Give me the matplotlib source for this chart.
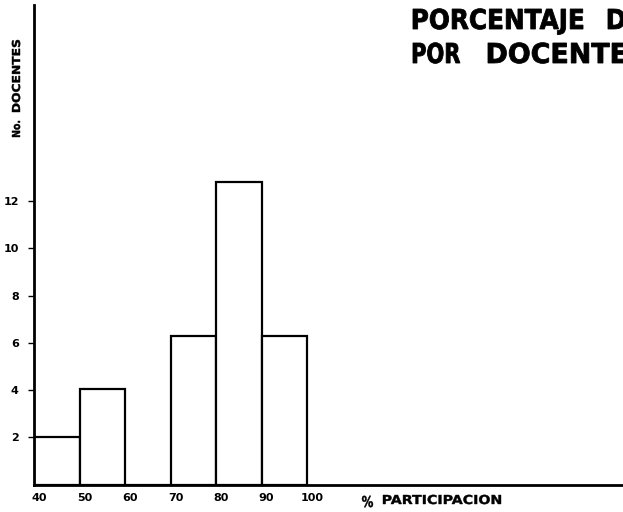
import numpy as np
import matplotlib
matplotlib.use('Agg')
import matplotlib.pyplot as plt
from matplotlib.textpath import TextPath
from matplotlib.patches import PathPatch
from matplotlib.font_manager import FontProperties
from matplotlib.transforms import Affine2D, ScaledTranslation

# intervalos de participacion (%) y numero de docentes
bordes = [40, 50, 60, 70, 80, 90, 100]
docentes = [2.0, 4.05, 0.0, 6.3, 12.8, 6.3]

xticks = [40, 50, 60, 70, 80, 90, 100]
xlabels = ['40', '50', '60', '70', '80', '90', '100']
yticks = [2, 4, 6, 8, 10, 12]
ylabels = ['2', '4', '6', '8', '10', '12']

W, H = 623, 512
plt.rcParams['font.family'] = ['DejaVu Sans']
fp = FontProperties(family='DejaVu Sans', weight='bold')
alto_H = TextPath((0, 0), 'H', size=20, prop=fp).get_extents().height


def letrero(fig, s, x0, base, ancho, cap, medida=None, rot=False, grosor=0.0):
    # texto como trazo, ajustado a un ancho y una altura de mayusculas en pixeles
    tp = TextPath((0, 0), s, size=20, prop=fp)
    bb = TextPath((0, 0), medida or s, size=20, prop=fp).get_extents()
    sx = ancho / bb.width
    sy = cap / alto_H
    tr = Affine2D().translate(-bb.x0, 0).scale(sx, sy)
    if rot:
        tr = tr.rotate_deg(90).translate(base, H - x0)
    else:
        tr = tr.translate(x0, H - base)
    p = PathPatch(tp, transform=tr, facecolor='black', edgecolor='black',
                  linewidth=grosor)
    fig.add_artist(p)


fig = plt.figure(figsize=(W / 100, H / 100), dpi=100)
ax = fig.add_axes([34 / W, 27.4 / H, 1 - 34 / W, 479.6 / H])

izq = np.array(bordes[:-1])
anchos = np.diff(bordes)
ax.bar(izq, docentes, width=anchos, align='edge', color='white',
       edgecolor='black', linewidth=1.6)

ax.set_xlim(40, 169.4)
ax.set_ylim(0, 20.3)

for lado in ['top', 'right']:
    ax.spines[lado].set_visible(False)
ax.spines['left'].set_linewidth(2)
ax.spines['bottom'].set_linewidth(2)

ax.set_xticks(xticks)
ax.set_xticklabels(xlabels, fontsize=8, fontweight='bold')
ax.set_yticks(yticks)
ax.set_yticklabels(ylabels, fontsize=8, fontweight='bold')
ax.tick_params(axis='x', length=0, pad=6)
ax.tick_params(axis='y', length=4, width=1, pad=7)
desplaza = ScaledTranslation(5 / 100, 0, fig.dpi_scale_trans)
for t in ax.get_xticklabels():
    t.set_transform(t.get_transform() + desplaza)

# titulo (cortado en el borde derecho)
letrero(fig, 'PORCENTAJE', 413, 29, 170, 20, grosor=0.6)
letrero(fig, 'DE', 608, 29, 17, 20, medida='D', grosor=0.6)
letrero(fig, 'POR', 413, 63, 47, 20, grosor=0.6)
letrero(fig, 'DOCENTES', 488, 63, 138, 20, medida='DOCENTE', grosor=0.6)

# ejes
letrero(fig, 'No.', 137, 20, 16, 8, rot=True, grosor=0.3)
letrero(fig, 'DOCENTES', 112, 20, 72, 8, rot=True, grosor=0.3)
letrero(fig, '%', 362, 507, 11, 11, grosor=0.3)
letrero(fig, 'PARTICIPACION', 383, 504, 118, 9, grosor=0.3)

fig.savefig('out.png', dpi=100)
